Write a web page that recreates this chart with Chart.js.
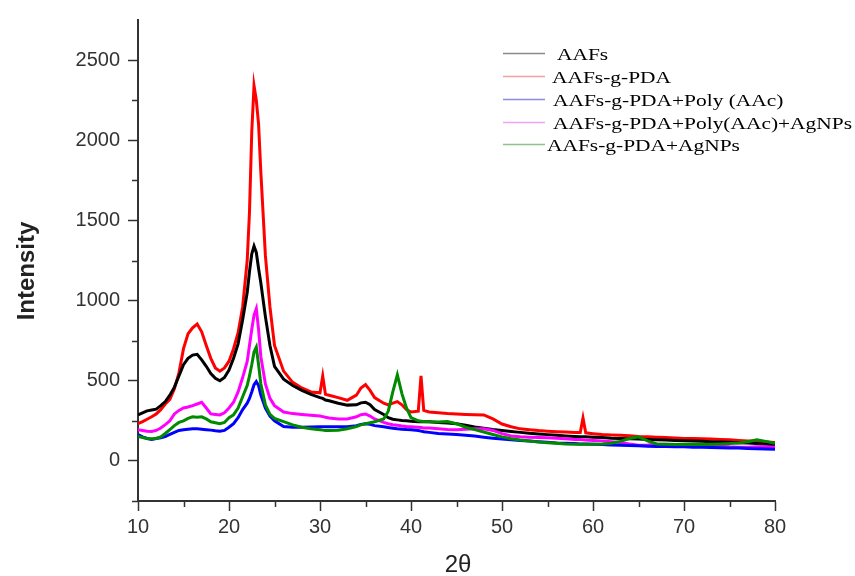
<!DOCTYPE html>
<html lang="en">
<head>
    <meta charset="UTF-8"/>
    <title>XRD patterns</title>
    <script src="https://cdn.jsdelivr.net/npm/chart.js"></script>
    <style>
        body { margin: 0; background: #fff; }
        .wrap { position: relative; width: 855px; height: 576px; }
    </style>
</head>
<body>
    <div class="wrap"><canvas id="xrd"></canvas></div>

    <script>
        // 2theta grid (deg) shared by all patterns
        const twoTheta = [
            10, 10.5, 11, 11.5, 12, 12.5, 13, 13.5, 14, 14.5,
            15, 15.5, 16, 16.5, 17, 17.5, 18, 18.5, 19, 19.5,
            20, 20.5, 21, 21.5, 22, 22.25, 22.5, 22.75, 23, 23.25,
            23.5, 24, 24.5, 25, 26, 27, 28, 29, 30, 30.3,
            30.6, 31, 32, 33, 34, 34.5, 35, 35.5, 36, 37,
            37.5, 38, 38.5, 39, 39.5, 40, 40.8, 41.1, 41.4, 42,
            43, 44, 45, 46, 47, 48, 49, 50, 51, 52,
            53, 54, 55, 56, 57, 58, 58.6, 58.9, 59.2, 60,
            61, 62, 63, 64, 65, 66, 67, 68, 69, 70,
            71, 72, 73, 74, 75, 76, 77, 78, 79, 80
        ];

        const aafs = [
            287, 300, 312, 318, 323, 345, 370, 410, 460, 530,
            600, 640, 660, 665, 630, 590, 545, 515, 500, 520,
            567, 640, 730, 880, 1050, 1180, 1290, 1340, 1300, 1200,
            1110, 900, 720, 590, 510, 470, 440, 415, 395, 390,
            380, 375, 360, 348, 350, 362, 366, 350, 320, 290,
            270, 260, 256, 252, 250, 248, 245, 245, 244, 244,
            240, 236, 232, 222, 212, 204, 196, 190, 184, 178,
            172, 168, 164, 160, 156, 152, 150, 150, 150, 148,
            146, 142, 140, 138, 136, 134, 132, 130, 128, 126,
            124, 122, 120, 118, 116, 114, 112, 108, 104, 100
        ];

        const aafsPda = [
            232, 245, 260, 275, 293, 320, 355, 384, 450, 549,
            700, 793, 830, 854, 805, 720, 640, 580, 560, 580,
            622, 700, 800, 960, 1250, 1550, 2050, 2340, 2250, 2100,
            1800, 1280, 960, 720, 560, 490, 455, 430, 425, 530,
            415, 410, 395, 378, 410, 455, 476, 440, 395, 360,
            350, 360, 370, 350, 320, 305, 310, 530, 315, 305,
            300, 295, 293, 290, 288, 287, 262, 230, 213, 200,
            195, 189, 185, 182, 180, 177, 177, 268, 175, 170,
            165, 162, 160, 157, 152, 150, 148, 146, 143, 140,
            140, 138, 136, 134, 132, 128, 125, 122, 118, 115
        ];

        const aafsPdaPaac = [
            165, 150, 140, 134, 140, 145, 152, 165, 178, 190,
            195, 198, 201, 200, 198, 195, 192, 188, 185, 190,
            210, 232, 270, 320, 360, 390, 430, 475, 495, 470,
            410, 330, 280, 250, 215, 210, 210, 212, 213, 213,
            213, 213, 213, 213, 220, 228, 232, 228, 220, 213,
            208, 204, 200, 198, 196, 195, 190, 186, 182, 178,
            171, 168, 165, 160, 155, 148, 142, 136, 132, 128,
            124, 120, 116, 112, 110, 108, 106, 106, 106, 104,
            102, 100, 98, 96, 94, 92, 90, 90, 88, 88,
            86, 85, 84, 82, 80, 80, 78, 76, 75, 73
        ];

        const aafsPdaPaacAg = [
            195, 190, 185, 183, 190, 205, 226, 250, 293, 315,
            330, 336, 345, 355, 366, 330, 293, 290, 287, 300,
            330, 366, 430, 520, 620, 720, 820, 910, 950, 820,
            650, 480, 390, 345, 305, 295, 290, 285, 280, 276,
            272, 268, 262, 262, 275, 288, 293, 280, 262, 240,
            232, 226, 222, 218, 215, 213, 210, 208, 206, 205,
            200, 196, 195, 198, 200, 201, 190, 170, 155, 150,
            148, 146, 144, 142, 138, 134, 133, 132, 131, 128,
            125, 120, 115, 105, 98, 100, 104, 104, 102, 100,
            98, 96, 94, 92, 88, 86, 86, 88, 88, 85
        ];

        const aafsPdaAg = [
            152, 146, 140, 138, 140, 150, 171, 195, 220, 240,
            250, 265, 275, 273, 275, 262, 244, 238, 232, 240,
            270, 287, 330, 400, 470, 530, 600, 680, 710, 600,
            480, 350, 290, 265, 245, 225, 210, 201, 195, 192,
            190, 189, 192, 201, 215, 225, 232, 238, 244, 262,
            310, 430, 537, 420, 330, 270, 250, 248, 246, 244,
            243, 246, 232, 210, 195, 180, 165, 150, 138, 130,
            124, 118, 114, 110, 106, 104, 104, 104, 104, 104,
            106, 110, 122, 140, 150, 125, 106, 104, 103, 102,
            102, 102, 104, 106, 108, 112, 120, 132, 122, 110
        ];

        const seriesNames = [
            'AAFs',
            'AAFs-g-PDA',
            'AAFs-g-PDA+Poly (AAc)',
            'AAFs-g-PDA+Poly(AAc)+AgNPs',
            'AAFs-g-PDA+AgNPs'
        ];
        const seriesValues = [aafs, aafsPda, aafsPdaPaac, aafsPdaPaacAg, aafsPdaAg];
        const seriesColors = ['#000000', '#ff0000', '#0000ff', '#ff00ff', '#008a00'];
        const legendColors = ['#8a8a8a', '#f2a0a0', '#8c8ce0', '#f5a0f5', '#8cc48c'];
        const drawOrder = [3, 4, 1, 2, 0];

        const xTicks = [10, 20, 30, 40, 50, 60, 70, 80];
        const xMinor = [15, 25, 35, 45, 55, 65, 75];
        const yTicks = [0, 500, 1000, 1500, 2000, 2500];
        const yMinor = [-250, 250, 750, 1250, 1750, 2250];

        const axisColor = '#333';
        const tickFont = { family: "'Liberation Sans', Arial, sans-serif", size: 20 };

        // minor ticks, axis titles and the hand-placed legend
        const decorations = {
            id: 'decorations',
            afterDraw(chart) {
                const ctx = chart.ctx;
                const xs = chart.scales.x, ys = chart.scales.y;
                ctx.save();
                ctx.strokeStyle = axisColor;
                ctx.lineWidth = 1.5;
                ctx.beginPath();
                yMinor.forEach(v => {
                    const p = Math.round(ys.getPixelForValue(v)) + 0.5;
                    ctx.moveTo(xs.left - 6, p);
                    ctx.lineTo(xs.left, p);
                });
                xMinor.forEach(v => {
                    const p = Math.round(xs.getPixelForValue(v)) + 0.5;
                    ctx.moveTo(p, ys.bottom);
                    ctx.lineTo(p, ys.bottom + 6);
                });
                ctx.stroke();

                // axis titles
                ctx.fillStyle = '#222';
                ctx.textAlign = 'center';
                ctx.textBaseline = 'middle';
                ctx.font = "24px 'Liberation Sans', Arial, sans-serif";
                ctx.fillText('2θ', 458, 565);
                ctx.translate(27, 271);
                ctx.rotate(-Math.PI / 2);
                ctx.font = "bold 24px 'Liberation Sans', Arial, sans-serif";
                ctx.fillText('Intensity', 0, 0);
                ctx.restore();

                // legend
                ctx.save();
                ctx.font = "17px 'Liberation Serif', 'Times New Roman', serif";
                const widest = ctx.measureText(seriesNames[3]).width;
                const sx = 299 / widest;
                const rowY = [53, 76, 99, 122, 144];
                const textX = [557, 552, 553, 553, 547];
                seriesNames.forEach((name, i) => {
                    ctx.strokeStyle = legendColors[i];
                    ctx.lineWidth = 1.5;
                    ctx.beginPath();
                    ctx.moveTo(503, rowY[i] + 0.5);
                    ctx.lineTo(545, rowY[i] + 0.5);
                    ctx.stroke();
                    ctx.save();
                    ctx.translate(textX[i], rowY[i] + 7);
                    ctx.scale(sx, 1);
                    ctx.fillStyle = '#000';
                    ctx.textAlign = 'left';
                    ctx.textBaseline = 'alphabetic';
                    ctx.fillText(name, 0, 0);
                    ctx.restore();
                });
                ctx.restore();
            }
        };

        const ctx = document.getElementById('xrd').getContext('2d');

        new Chart(ctx, {
            type: 'line',
            data: {
                datasets: seriesNames.map((name, i) => ({
                    label: name,
                    data: twoTheta.map((t, j) => ({ x: t, y: seriesValues[i][j] })),
                    borderColor: seriesColors[i],
                    borderWidth: 3,
                    pointRadius: 0,
                    tension: 0,
                    fill: false,
                    order: drawOrder[i]
                }))
            },
            options: {
                responsive: true,
                maintainAspectRatio: false,
                animation: false,
                layout: { padding: { top: 12, right: 80, left: 0, bottom: 0 } },
                plugins: {
                    legend: { display: false },
                    tooltip: { enabled: false }
                },
                scales: {
                    x: {
                        type: 'linear',
                        min: 10,
                        max: 80,
                        afterBuildTicks: s => { s.ticks = xTicks.map(v => ({ value: v })); },
                        afterFit: s => { s.height = 75; },
                        border: { display: true, color: axisColor, width: 2 },
                        grid: { drawOnChartArea: false, drawTicks: true, tickLength: 10, tickColor: axisColor, tickWidth: 1.5 },
                        ticks: { color: '#333', font: tickFont, padding: 4, maxRotation: 0, callback: v => String(v) }
                    },
                    y: {
                        type: 'linear',
                        min: -250,
                        max: 2750,
                        afterBuildTicks: s => { s.ticks = yTicks.map(v => ({ value: v })); },
                        afterFit: s => { s.width = 138; },
                        border: { display: true, color: axisColor, width: 2 },
                        grid: { drawOnChartArea: false, drawTicks: true, tickLength: 10, tickColor: axisColor, tickWidth: 1.5 },
                        ticks: { color: '#333', font: tickFont, padding: 8, callback: v => String(v) }
                    }
                }
            },
            plugins: [decorations]
        });
    </script>
</body>
</html>
